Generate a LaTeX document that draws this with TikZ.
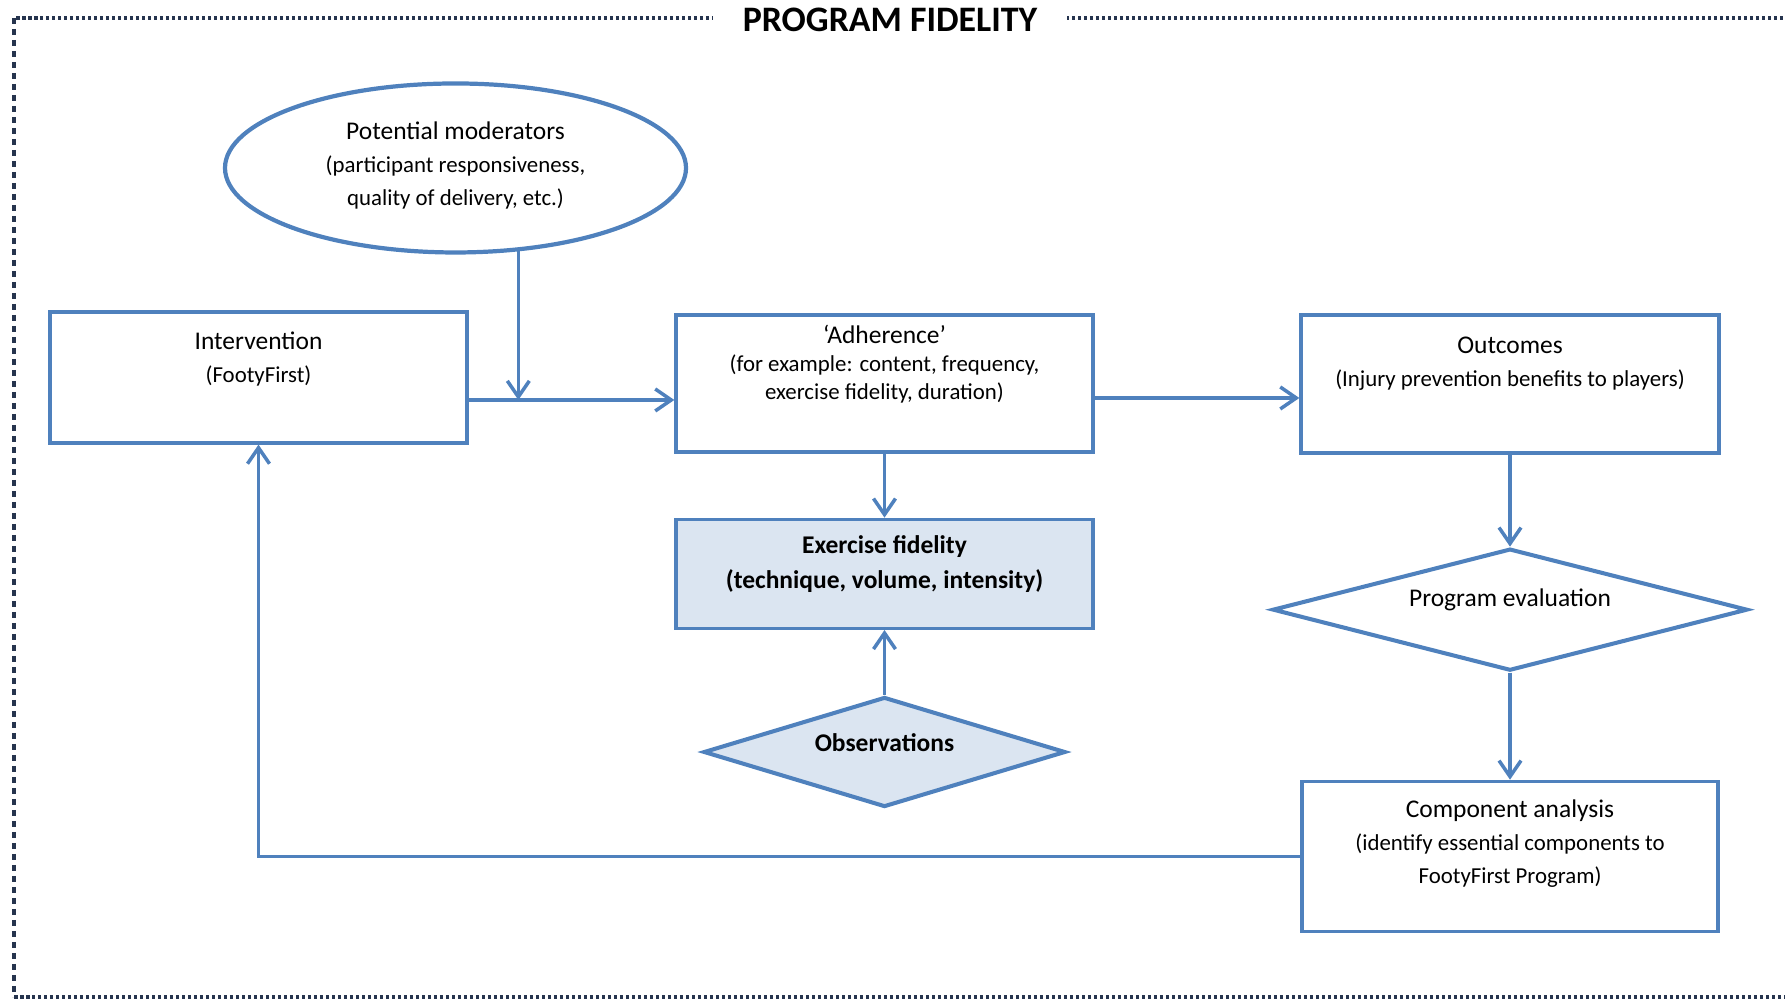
\documentclass[tikz,border=0pt]{standalone}
\usepackage{fontspec}
\setmainfont{Carlito}
\usetikzlibrary{arrows.meta,shapes.geometric,positioning}
\definecolor{fblue}{RGB}{79,129,189}
\definecolor{ffill}{RGB}{219,229,241}
\definecolor{fframe}{RGB}{38,52,78}
\tikzstyle{box} = [rectangle, draw=fblue, line width=0.95pt, align=center, inner sep=0pt, minimum width=4.17cm]
\tikzstyle{ask} = [diamond, draw=fblue, line width=1.15pt, align=center, inner sep=0pt, aspect=3.4]
\tikzstyle{arrow} = [line width=1pt,->,>={Straight Barb[length=1.6mm,width=2.2mm]},draw=fblue]
\tikzstyle{frame} = [line width=0.9pt, draw=fframe, dash pattern=on 0.035cm off 0.025cm]
\newcommand{\hd}[1]{{\fontsize{7.25}{9.4}\selectfont #1}}

\begin{document}
\begin{tikzpicture}[font=\fontsize{6.5}{9.4}\selectfont]
\useasboundingbox (0,0) rectangle (17.85,10);
% dotted frame
\draw[frame] (0.16,9.82) -- (17.85,9.82);
\draw[frame] (0.14,0.03) -- (17.85,0.03);
\draw[frame, dash pattern=on 0.06cm off 0.05cm] (0.14,9.82) -- (0.14,0.03);
\node (title) [fill=white, inner xsep=0.3cm, font=\bfseries\fontsize{10.2}{12}\selectfont] at (8.9,9.805) {PROGRAM FIDELITY};

\node (mod) [ellipse, draw=fblue, line width=1.2pt, inner sep=0pt, minimum width=4.61cm, minimum height=1.69cm, align=center, text depth=0.09cm] at (4.555,8.32) {\hd{Potential moderators}\\(participant responsiveness,\\quality of delivery, etc.)};
\node (int) [box, minimum height=1.31cm, text depth=0.415cm] at (2.585,6.225) {\hd{Intervention}\\(FootyFirst)};
\node (adh) [box, minimum height=1.37cm, text depth=0.43cm] at (8.845,6.165) {\hd{‘Adherence’}\\[-0.05cm](for example: content, frequency,\\[-0.05cm]exercise fidelity, duration)};
\node (out) [box, minimum width=4.18cm, minimum height=1.38cm, text depth=0.445cm] at (15.10,6.16) {\hd{Outcomes}\\(Injury prevention benefits to players)};
\node (fid) [box, fill=ffill, minimum height=1.09cm, text depth=0.235cm, font=\bfseries\fontsize{7.25}{10.2}\selectfont, below=0.64cm of adh] {Exercise fidelity\\(technique, volume, intensity)};
\node (obs) [ask, fill=ffill, minimum width=3.62cm, minimum height=1.1cm, text depth=0.185cm, font=\bfseries\fontsize{7.25}{9.4}\selectfont, below=0.65cm of fid] {Observations};
\node (eval) [ask, minimum width=4.75cm, minimum height=1.22cm, text depth=0.235cm, below=0.92cm of out] {\hd{Program evaluation}};
\node (comp) [box, minimum width=4.16cm, minimum height=1.5cm, text depth=0.295cm, below=1.07cm of eval] {\hd{Component analysis}\\(identify essential components to\\FootyFirst Program)};

\coordinate (jn) at (5.18,6.0);
\draw[arrow] (int.east |- jn) -- (adh.west |- jn);
\draw[arrow] (mod.-53) -- (mod.-53 |- jn);
\draw[arrow] ([yshift=-0.145cm]adh.east) -- ([yshift=-0.145cm]adh.east -| out.west);
\draw[arrow] (adh.south) -- (adh.south |- fid.north);
\draw[arrow] (obs.north) -- (obs.north |- fid.south);
\draw[arrow] (out.south) -- (out.south |- eval.north);
\draw[arrow] (eval.south) -- (eval.south |- comp.north);
\draw[arrow] (comp.west) -| (int.south);
\end{tikzpicture}
\end{document}
